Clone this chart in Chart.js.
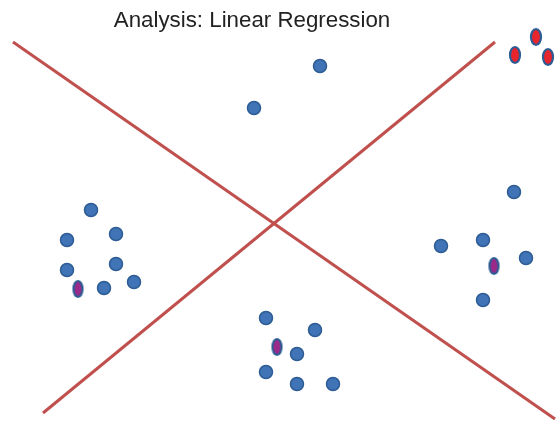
<!DOCTYPE html>
<html>
<head>
<meta charset="utf-8">
<script src="https://cdn.jsdelivr.net/npm/chart.js@4"></script>
<style>
  body { margin: 0; background: #fff; }
  #wrap { width: 557px; height: 424px; }
</style>
</head>
<body>
<div id="wrap"><canvas id="chart" width="557" height="424"></canvas></div>
<script>
// plot is laid out in picture units (x right, y down)
var titleText = 'Analysis: Linear Regression';

var lineA = [{x: 13, y: 42}, {x: 555, y: 419}];
var lineB = [{x: 43, y: 413}, {x: 495, y: 42}];

var blueX = [320, 254, 91, 67, 116, 67, 116, 104, 134, 266, 315, 297, 266, 297, 333, 514, 441, 483, 526, 483];
var blueY = [66, 108, 210, 240, 234, 270, 264, 288, 282, 318, 330, 354, 372, 384, 384, 192, 246, 240, 258, 300];

var redX = [536, 515, 548];
var redY = [37, 55, 57];

var purpleX = [78, 277, 494];
var purpleY = [289, 347, 266];

function toPoints(xs, ys) {
    return xs.map(function(x, i) { return {x: x, y: ys[i]}; });
}

// little ellipse marker drawn onto its own canvas
function ellipseMarker(fill, rx, ry) {
    var c = document.createElement('canvas');
    c.width = rx * 2 + 4;
    c.height = ry * 2 + 4;
    var g = c.getContext('2d');
    g.beginPath();
    g.ellipse(c.width / 2, c.height / 2, rx, ry, 0, 0, Math.PI * 2);
    g.fillStyle = fill;
    g.fill();
    g.lineWidth = 2.2;
    g.strokeStyle = '#2d5c94';
    g.stroke();
    return c;
}

var titlePlugin = {
    id: 'plainTitle',
    afterDraw: function(chart) {
        var ctx = chart.ctx;
        ctx.save();
        ctx.font = '22.3px "Liberation Sans", Arial, sans-serif';
        ctx.fillStyle = '#222';
        ctx.textAlign = 'center';
        ctx.textBaseline = 'alphabetic';
        ctx.fillText(titleText, 252, 27);
        ctx.restore();
    }
};

var lineColor = '#c0504d';

var ctx = document.getElementById('chart').getContext('2d');
var chart = new Chart(ctx, {
    type: 'scatter',
    data: {
        datasets: [
            {
                data: lineA, showLine: true, borderColor: lineColor, borderWidth: 3,
                pointRadius: 0, fill: false, clip: false
            },
            {
                data: lineB, showLine: true, borderColor: lineColor, borderWidth: 3,
                pointRadius: 0, fill: false, clip: false
            },
            {
                data: toPoints(blueX, blueY), pointRadius: 6.5, pointBorderWidth: 1.5,
                backgroundColor: '#4074b6', borderColor: '#2d5c94', clip: false
            },
            {
                data: toPoints(redX, redY), pointStyle: ellipseMarker('#e8242c', 5, 8), clip: false
            },
            {
                data: toPoints(purpleX, purpleY), pointStyle: ellipseMarker('#9b2a8a', 4.5, 8), clip: false
            }
        ]
    },
    options: {
        responsive: false,
        animation: false,
        layout: { padding: 0 },
        plugins: {
            legend: { display: false },
            title: { display: false },
            tooltip: { enabled: false }
        },
        scales: {
            x: { type: 'linear', min: 0, max: 557, display: false },
            y: { type: 'linear', min: 0, max: 424, reverse: true, display: false }
        }
    },
    plugins: [titlePlugin]
});

// the chart keeps a small inset for the markers; stretch the ranges so
// one unit still equals one pixel of the picture
var area = chart.chartArea;
chart.options.scales.x.min = area.left;
chart.options.scales.x.max = area.right;
chart.options.scales.y.min = area.top;
chart.options.scales.y.max = area.bottom;
chart.update();
</script>
</body>
</html>
